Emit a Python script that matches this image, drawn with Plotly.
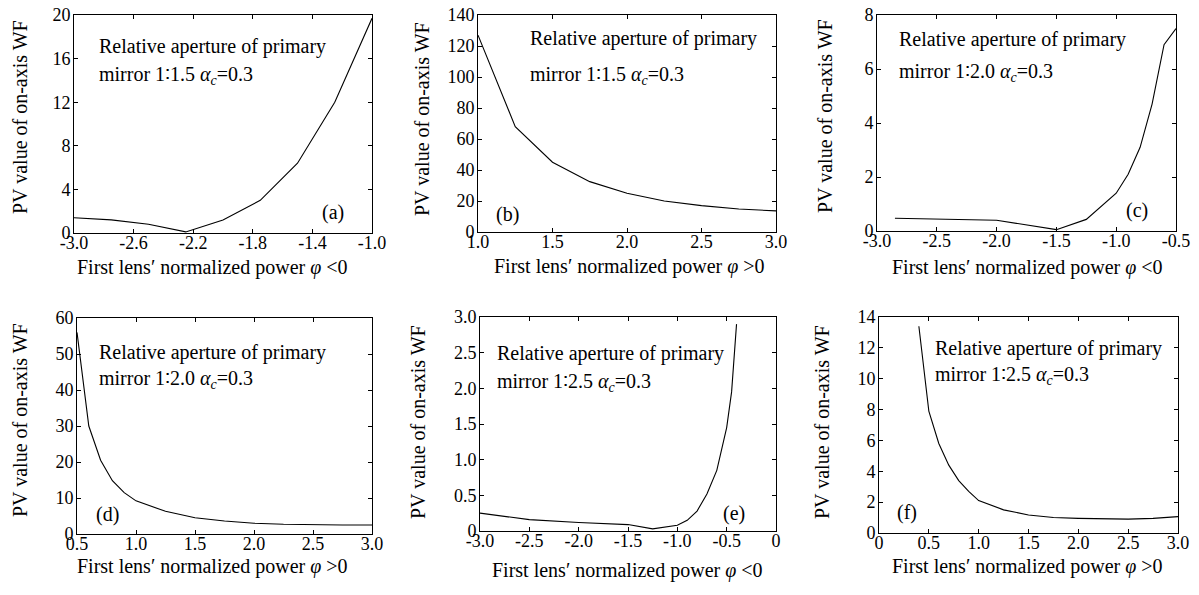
import plotly.graph_objects as go

# ---------------- data ----------------
a_x = [-3.0, -2.75, -2.5, -2.25, -2.0, -1.75, -1.5, -1.25, -1.0]
a_y = [1.4, 1.2, 0.8, 0.1, 1.2, 3.0, 6.4, 12.0, 19.7]

b_x = [1.0, 1.25, 1.5, 1.75, 2.0, 2.25, 2.5, 2.75, 3.0]
b_y = [127, 68, 45, 32.5, 25, 20, 17, 14.8, 13.6]

c_x = [-2.85, -2.5, -2.0, -1.5, -1.25, -1.0, -0.9, -0.8, -0.7, -0.6, -0.5]
c_y = [0.47, 0.45, 0.40, 0.05, 0.43, 1.4, 2.1, 3.1, 4.7, 6.9, 7.5]

d_x = [0.5, 0.6, 0.7, 0.8, 0.9, 1.0, 1.25, 1.5, 1.75, 2.0, 2.25, 2.5, 2.75, 3.0]
d_y = [56, 30, 20.5, 14.8, 11.5, 9.2, 6.3, 4.5, 3.6, 3.0, 2.7, 2.5, 2.5, 2.5]

e_x = [-3.0, -2.5, -2.0, -1.5, -1.25, -1.0, -0.9, -0.8, -0.7, -0.6, -0.5, -0.45, -0.4]
e_y = [0.25, 0.16, 0.12, 0.09, 0.03, 0.08, 0.15, 0.28, 0.52, 0.85, 1.45, 1.95, 2.9]

f_x = [0.4, 0.5, 0.6, 0.7, 0.8, 0.9, 1.0, 1.25, 1.5, 1.75, 2.0, 2.25, 2.5, 2.75, 3.0]
f_y = [13.4, 7.9, 5.8, 4.4, 3.4, 2.7, 2.1, 1.5, 1.17, 1.0, 0.95, 0.92, 0.9, 0.95, 1.06]

# tick values / labels
a_xticks = [-3.0, -2.6, -2.2, -1.8, -1.4, -1.0]
a_xlabels = ["-3.0", "-2.6", "-2.2", "-1.8", "-1.4", "-1.0"]
a_yticks = [0, 4, 8, 12, 16, 20]

b_xticks = [1.0, 1.5, 2.0, 2.5, 3.0]
b_xlabels = ["1.0", "1.5", "2.0", "2.5", "3.0"]
b_yticks = [0, 20, 40, 60, 80, 100, 120, 140]

c_xticks = [-3.0, -2.5, -2.0, -1.5, -1.0, -0.5]
c_xlabels = ["-3.0", "-2.5", "-2.0", "-1.5", "-1.0", "-0.5"]
c_yticks = [0, 2, 4, 6, 8]

d_xticks = [0.5, 1.0, 1.5, 2.0, 2.5, 3.0]
d_xlabels = ["0.5", "1.0", "1.5", "2.0", "2.5", "3.0"]
d_yticks = [0, 10, 20, 30, 40, 50, 60]

e_xticks = [-3.0, -2.5, -2.0, -1.5, -1.0, -0.5, 0]
e_xlabels = ["-3.0", "-2.5", "-2.0", "-1.5", "-1.0", "-0.5", "0"]
e_yticks = [0, 0.5, 1.0, 1.5, 2.0, 2.5, 3.0]
e_ylabels = ["0", "0.5", "1.0", "1.5", "2.0", "2.5", "3.0"]

f_xticks = [0, 0.5, 1.0, 1.5, 2.0, 2.5, 3.0]
f_xlabels = ["0", "0.5", "1.0", "1.5", "2.0", "2.5", "3.0"]
f_yticks = [0, 2, 4, 6, 8, 10, 12, 14]

panel_tags = ["(a)", "(b)", "(c)", "(d)", "(e)", "(f)"]
ratios = ["1∶1.5", "1∶1.5", "1∶2.0", "1∶2.0", "1∶2.5", "1∶2.5"]
signs = ["&lt;", "&gt;", "&lt;", "&gt;", "&lt;", "&gt;"]

# ---------------- layout geometry (pixels) ----------------
W, H = 1199, 595
FONT = "Liberation Serif"

panels = [
    dict(x=a_x, y=a_y, xr=[-3.0, -1.0], yr=[0, 20], xt=a_xticks, xl=a_xlabels, yt=a_yticks, yl=None,
         box=(74, 372, 15, 233), ytitle=(20, 117), xtitle=(212, 267), text=(97, 47, 75), tag=(333, 212)),
    dict(x=b_x, y=b_y, xr=[1.0, 3.0], yr=[0, 140], xt=b_xticks, xl=b_xlabels, yt=b_yticks, yl=None,
         box=(478, 776, 15, 232), ytitle=(422, 119), xtitle=(629, 266), text=(528, 39, 75), tag=(507, 214)),
    dict(x=c_x, y=c_y, xr=[-3.0, -0.5], yr=[0, 8], xt=c_xticks, xl=c_xlabels, yt=c_yticks, yl=None,
         box=(877, 1176, 15, 231), ytitle=(825, 116), xtitle=(1027, 267), text=(897, 40, 72), tag=(1137, 210)),
    dict(x=d_x, y=d_y, xr=[0.5, 3.0], yr=[0, 60], xt=d_xticks, xl=d_xlabels, yt=d_yticks, yl=None,
         box=(77, 372, 318, 534), ytitle=(20, 420), xtitle=(212, 566), text=(97, 352, 380), tag=(107, 514)),
    dict(x=e_x, y=e_y, xr=[-3.0, 0], yr=[0, 3.0], xt=e_xticks, xl=e_xlabels, yt=e_yticks, yl=e_ylabels,
         box=(480, 776, 317, 531), ytitle=(418, 422), xtitle=(628, 570), text=(495, 353, 382), tag=(734, 513)),
    dict(x=f_x, y=f_y, xr=[0, 3.0], yr=[0, 14], xt=f_xticks, xl=f_xlabels, yt=f_yticks, yl=None,
         box=(879, 1178, 317, 533), ytitle=(822, 422), xtitle=(1027, 566), text=(933, 348, 375), tag=(907, 512)),
]

def px(x):
    return x / W

def py(y):
    return 1 - y / H

fig = go.Figure()
annotations = []
layout = dict(
    width=W, height=H,
    margin=dict(l=0, r=0, t=0, b=0, pad=0),
    paper_bgcolor="white", plot_bgcolor="white",
    showlegend=False,
    font=dict(family=FONT, size=18, color="black"),
)

for i, p in enumerate(panels):
    n = "" if i == 0 else str(i + 1)
    xa, ya = "x" + n, "y" + n
    fig.add_trace(go.Scatter(x=p["x"], y=p["y"], mode="lines",
                             line=dict(color="black", width=1.1),
                             xaxis=xa, yaxis=ya, hoverinfo="x+y"))
    l, r, t, b = p["box"]
    axis_common = dict(showgrid=False, zeroline=False, showline=True, linecolor="black",
                       linewidth=1, mirror="ticks", ticks="inside", ticklen=4,
                       tickcolor="black", automargin=False,
                       tickfont=dict(family=FONT, size=18, color="black"))
    layout["xaxis" + n] = dict(domain=[px(l), px(r)], range=p["xr"], anchor=ya,
                               tickmode="array", tickvals=p["xt"], ticktext=p["xl"],
                               ticklabelstandoff=-7, **axis_common)
    yax = dict(domain=[py(b), py(t)], range=p["yr"], anchor=xa, tickmode="array",
               tickvals=p["yt"], ticklabelstandoff=-1, **axis_common)
    if p["yl"] is not None:
        yax["ticktext"] = p["yl"]
    layout["yaxis" + n] = yax

    # axis titles
    annotations.append(dict(text="PV value of on-axis WF", x=px(p["ytitle"][0]), y=py(p["ytitle"][1]),
                            xref="paper", yref="paper", xanchor="center", yanchor="middle",
                            textangle=-90, showarrow=False, font=dict(family=FONT, size=20, color="black")))
    annotations.append(dict(text="First lens′ normalized power <i>φ</i> " + signs[i] + "0",
                            x=px(p["xtitle"][0]), y=py(p["xtitle"][1]),
                            xref="paper", yref="paper", xanchor="center", yanchor="middle",
                            showarrow=False, font=dict(family=FONT, size=20, color="black")))
    # in-panel text
    tx, ty1, ty2 = p["text"]
    annotations.append(dict(text="Relative aperture of primary", x=px(tx), y=py(ty1),
                            xref="paper", yref="paper", xanchor="left", yanchor="middle",
                            showarrow=False, font=dict(family=FONT, size=20, color="black")))
    annotations.append(dict(text="mirror " + ratios[i] + " <i>α</i><sub><i>c</i></sub>=0.3",
                            x=px(tx), y=py(ty2),
                            xref="paper", yref="paper", xanchor="left", yanchor="middle",
                            showarrow=False, font=dict(family=FONT, size=20, color="black")))
    annotations.append(dict(text=panel_tags[i], x=px(p["tag"][0]), y=py(p["tag"][1]),
                            xref="paper", yref="paper", xanchor="center", yanchor="middle",
                            showarrow=False, font=dict(family=FONT, size=20, color="black")))

layout["annotations"] = annotations
fig.update_layout(**layout)
fig.write_html("out.html",
               config={"displayModeBar": False},
               post_script="document.body.style.margin='0';document.body.style.overflow='hidden';")
